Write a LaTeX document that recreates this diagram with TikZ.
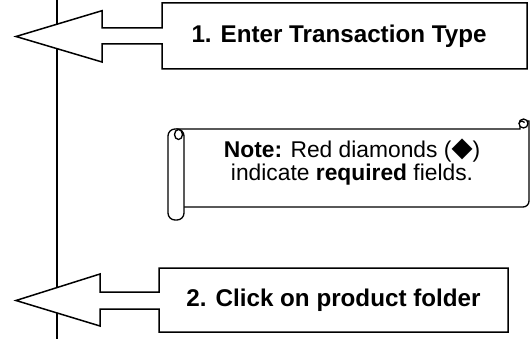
\documentclass[tikz,border=0pt]{standalone}
\usepackage{fontspec}
\setmainfont{Liberation Sans}
\newfontfamily\symfont{DejaVu Sans}
\begin{document}
\begin{tikzpicture}[x=1pt,y=-1pt,
  outline/.style={draw=black,line width=1.5pt,line join=miter,fill=white},
  steptext/.style={font=\fontsize{24.2}{26}\selectfont\bfseries,inner sep=0pt},
  notetext/.style={inner sep=0pt,align=center,font=\fontsize{22.8}{23.5}\selectfont}]
\useasboundingbox (0,0) rectangle (532,339);

% time line on the left
\coordinate (ltop) at (56.5,0);
\coordinate (lbot) at (56.5,339);
\draw[line width=2pt] (ltop) -- (lbot);

% step 1: left arrow callout
\draw[outline] (527,3) -- (162,3) -- (162,28) -- (102,28) -- (102,10.7)
  -- (16,36.5) -- (102,62) -- (102,44) -- (162,44) -- (162,69) -- (527,69) -- cycle;
\node[steptext] (s1) at (339,36.5) {1. Enter Transaction Type};

% step 2: left arrow callout
\draw[outline] (508,268) -- (159,268) -- (159,292) -- (100,292) -- (100,274)
  -- (16,300.5) -- (100,326) -- (100,309) -- (159,309) -- (159,332) -- (508,332) -- cycle;
\node[steptext] (s2) at (333.5,300.5) {2. Click on product folder};

% note drawn as a horizontal scroll
\draw[outline,line width=1.3pt]
  (176,129) -- (520,129) -- (520,121) -- (529,121)
  -- (529,201) arc[start angle=0,end angle=90,radius=6] -- (183,207);
\draw[outline,line width=1.3pt,rounded corners=7pt]
  (168,220) rectangle (184,129);
\draw[line width=1.3pt,fill=white] (523.5,123.5) circle[radius=4.5];
\draw[line width=1.3pt] (519,124) arc[start angle=180,end angle=330,radius=3];
\draw[line width=1.3pt,fill=white] (178.5,134.5) ellipse[x radius=4,y radius=5];
\node[notetext] (note) at (352,162.5)
  {\textbf{Note:} Red diamonds ({\symfont\raisebox{0.05ex}{\scalebox{1.2}{\char"25C6}}})\\
   indicate \textbf{required} fields.};
\end{tikzpicture}
\end{document}
